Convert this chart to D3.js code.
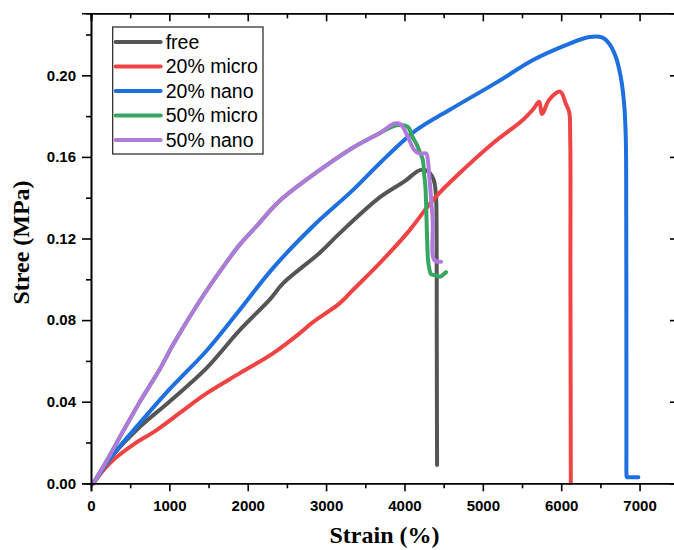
<!DOCTYPE html>
<html>
<head>
<meta charset="utf-8">
<script src="https://cdn.jsdelivr.net/npm/d3@7"></script>
<style>
  body { margin: 0; background: #fff; }
  svg { display: block; }
</style>
</head>
<body>
<svg></svg>
<script>
var W = 674, H = 550;
var margin = {top: 13.3, left: 91, bottom: 66.7, right: -2};
var width = W - margin.left - margin.right;
var height = H - margin.top - margin.bottom;

// data: [strain %, stress MPa]
var seriesNames = ["free", "20% micro", "20% nano", "50% micro", "50% nano"];
var seriesColors = ["#555555", "#F04343", "#1E6FE0", "#37A660", "#B07ADA"];

var freeData = [
  [30, 0], [150, 0.007], [240, 0.012], [624, 0.0277], [1000, 0.040], [1474, 0.0565],
  [1898, 0.0751], [2280, 0.090], [2450, 0.098], [2920, 0.113], [3172, 0.1225],
  [3680, 0.140], [4000, 0.148], [4200, 0.1535], [4300, 0.153], [4370, 0.149],
  [4400, 0.142], [4410, 0.125], [4412, 0.08], [4414, 0.04], [4416, 0.009]
];
var micro20Data = [
  [30, 0], [150, 0.006], [300, 0.012], [540, 0.019], [837, 0.0261], [1219, 0.037],
  [1474, 0.0441], [1900, 0.054], [2322, 0.0637], [2662, 0.0735], [2832, 0.079],
  [3172, 0.0882], [3341, 0.0947], [3682, 0.1078], [4064, 0.124], [4382, 0.1397],
  [4786, 0.155], [5125, 0.1666], [5507, 0.178], [5635, 0.183], [5720, 0.187],
  [5754, 0.181], [5847, 0.188], [5987, 0.192], [6060, 0.186], [6102, 0.182],
  [6115, 0.17], [6118, 0.10], [6123, 0]
];
var nano20Data = [
  [30, 0], [150, 0.007], [300, 0.015], [624, 0.0296], [1000, 0.046], [1474, 0.065],
  [1856, 0.083], [2322, 0.1055], [2832, 0.126], [3341, 0.1437], [3682, 0.1568],
  [4149, 0.1731], [4573, 0.183], [5188, 0.1968], [5635, 0.2074], [6060, 0.2148],
  [6357, 0.2188], [6527, 0.2185], [6611, 0.2156], [6697, 0.209], [6760, 0.1992],
  [6803, 0.186], [6824, 0.1698], [6830, 0.129], [6832, 0.06], [6832, 0.012],
  [6833, 0.005], [6838, 0.003], [6870, 0.003], [6985, 0.003]
];
var micro50Data = [
  [30, 0], [200, 0.011], [411, 0.0256], [624, 0.040], [879, 0.056], [1048, 0.068],
  [1389, 0.0895], [1686, 0.1061], [1898, 0.117], [2111, 0.126],
  [2408, 0.1385], [2917, 0.1535], [3341, 0.1645], [3682, 0.1716], [3900, 0.1755],
  [4042, 0.1747], [4100, 0.170], [4149, 0.1666], [4200, 0.162], [4235, 0.1584],
  [4250, 0.152], [4268, 0.145], [4285, 0.125], [4300, 0.110], [4318, 0.105],
  [4340, 0.1025], [4400, 0.102], [4450, 0.1012], [4500, 0.1025], [4530, 0.1035]
];
var nano50Data = [
  [30, 0], [200, 0.011], [411, 0.0256], [624, 0.040], [879, 0.056], [1048, 0.068],
  [1389, 0.0895], [1686, 0.1061], [1898, 0.117], [2111, 0.126],
  [2408, 0.1385], [2917, 0.1535], [3341, 0.1645], [3682, 0.1716], [3873, 0.1764],
  [3950, 0.176], [4042, 0.170], [4127, 0.1633], [4200, 0.1615], [4276, 0.1617],
  [4300, 0.158], [4318, 0.150], [4360, 0.129], [4382, 0.1094], [4467, 0.1086]
];
var allSeries = [freeData, micro20Data, nano20Data, micro50Data, nano50Data];

var strainTicks = [0, 1000, 2000, 3000, 4000, 5000, 6000, 7000];
var strainMinor = [500, 1500, 2500, 3500, 4500, 5500, 6500];
var stressTicks = [0, 0.04, 0.08, 0.12, 0.16, 0.20];
var stressMinor = [0.02, 0.06, 0.10, 0.14, 0.18, 0.22];

// SVG setup
var svg = d3.select("svg")
  .attr("width", W)
  .attr("height", H)
  .append("g")
    .attr("transform", "translate(" + margin.left + "," + margin.top + ")");

var x = d3.scaleLinear().domain([0, 7465]).range([0, width]);
var y = d3.scaleLinear().domain([0, 0.2304]).range([height, 0]);

// lines
var line = d3.line()
  .curve(d3.curveCatmullRom.alpha(0.5))
  .x(function(d){ return x(d[0]); })
  .y(function(d){ return y(d[1]); });

svg.selectAll(".curve")
  .data(allSeries)
  .enter()
  .append("path")
    .attr("class", "curve")
    .attr("d", line)
    .attr("fill", "none")
    .attr("stroke", function(d, i){ return seriesColors[i]; })
    .attr("stroke-width", 4)
    .attr("stroke-linejoin", "round")
    .attr("stroke-linecap", "round");

// axes
function styleAxis(g) {
  g.select(".domain").attr("stroke", "#000").attr("stroke-width", 1.6);
  g.selectAll(".tick line").attr("stroke", "#000").attr("stroke-width", 1.6);
  g.selectAll("text")
    .attr("fill", "#000")
    .style("font-family", "'Liberation Sans', Arial, sans-serif")
    .style("font-weight", "bold")
    .style("font-size", "15px");
}

var bottom = svg.append("g")
  .attr("transform", "translate(0," + height + ")")
  .call(d3.axisBottom(x).tickValues(strainTicks).tickFormat(d3.format("d")).tickSizeOuter(0).tickSize(8).tickPadding(9));
styleAxis(bottom);
svg.append("g")
  .attr("transform", "translate(0," + height + ")")
  .call(d3.axisBottom(x).tickValues(strainMinor).tickFormat("").tickSizeOuter(0).tickSize(5))
  .call(styleAxis);

var left = svg.append("g")
  .call(d3.axisLeft(y).tickValues(stressTicks).tickFormat(d3.format(".2f")).tickSizeOuter(0).tickSize(9).tickPadding(6));
styleAxis(left);
svg.append("g")
  .call(d3.axisLeft(y).tickValues(stressMinor).tickFormat("").tickSizeOuter(0).tickSize(5))
  .call(styleAxis);

svg.append("g")
  .call(d3.axisTop(x).tickValues(strainTicks).tickFormat("").tickSizeOuter(0).tickSize(-8))
  .call(styleAxis);
svg.append("g")
  .call(d3.axisTop(x).tickValues(strainMinor).tickFormat("").tickSizeOuter(0).tickSize(-5))
  .call(styleAxis);

svg.append("g")
  .attr("transform", "translate(" + width + ",0)")
  .call(d3.axisRight(y).tickValues(stressTicks).tickFormat("").tickSizeOuter(0).tickSize(-6))
  .call(styleAxis);

// axis titles
svg.append("text")
  .attr("x", width / 2 + 1)
  .attr("y", 543 - margin.top)
  .attr("text-anchor", "middle")
  .style("font-family", "'Liberation Serif', 'Times New Roman', serif")
  .style("font-weight", "bold")
  .style("font-size", "24px")
  .text("Strain (%)");

svg.append("text")
  .attr("transform", "translate(" + (28.5 - margin.left) + "," + (242.5 - margin.top) + ") rotate(-90)")
  .attr("text-anchor", "middle")
  .style("font-family", "'Liberation Serif', 'Times New Roman', serif")
  .style("font-weight", "bold")
  .style("font-size", "24px")
  .text("Stree (MPa)");

// legend
var legend = svg.append("g").attr("transform", "translate(" + (112.7 - margin.left) + "," + (27 - margin.top) + ")");
legend.append("rect")
  .attr("width", 150.3)
  .attr("height", 127)
  .attr("fill", "#fff")
  .attr("stroke", "#222")
  .attr("stroke-width", 1.2);

var item = legend.selectAll(".item")
  .data(seriesNames)
  .enter()
  .append("g")
    .attr("transform", function(d, i){ return "translate(0," + (15 + i * 24.5) + ")"; });

item.append("line")
  .attr("x1", 3).attr("x2", 48)
  .attr("stroke", function(d, i){ return seriesColors[i]; })
  .attr("stroke-width", 4)
  .attr("stroke-linecap", "round");

item.append("text")
  .attr("x", 53)
  .attr("dy", "0.35em")
  .style("font-family", "'Liberation Sans', Arial, sans-serif")
  .style("font-size", "19.5px")
  .text(function(d){ return d; });
</script>
</body>
</html>
